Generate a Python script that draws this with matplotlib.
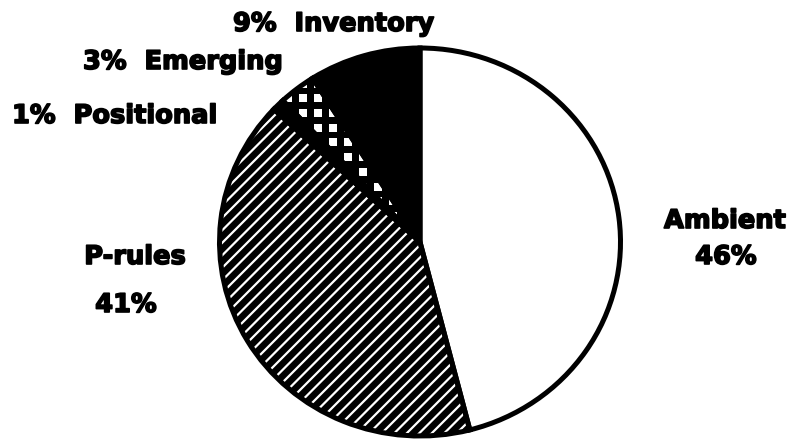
import matplotlib
matplotlib.use("Agg")
import matplotlib.pyplot as plt
import matplotlib.patheffects as pe
import numpy as np
from matplotlib.collections import LineCollection
from matplotlib.patches import Wedge
from matplotlib.transforms import IdentityTransform

# Slice order runs counter-clockwise from 12 o'clock
categories = ["Inventory", "Emerging", "Positional", "P-rules", "Ambient"]
shares = [9, 3, 1, 41, 46]
label_lines = ["9%  Inventory", "3%  Emerging", "1%  Positional", "P-rules", "Ambient"]
pct_lines = ["", "", "", "41%", "46%"]

W, H = 794, 440
fig = plt.figure(figsize=(W / 100, H / 100), dpi=100)
ax = fig.add_axes([0, 0, 1, 1])

# pixel geometry of the disc (slightly wider than tall)
cx, cy = 420, 242          # centre, measured from top-left
rx, ry = 200.5, 194.0      # pixels per data unit

fills = ["black", "black", "black", "black", "white"]
wedges, _ = ax.pie(shares, startangle=90, counterclock=True, radius=1.0,
                   colors=fills, frame=True,
                   wedgeprops=dict(edgecolor="black", linewidth=0))
ax.set_xlim(-cx / rx, (W - cx) / rx)
ax.set_ylim(-(H - cy) / ry, cy / ry)
ax.set_aspect("auto")
ax.axis("off")

# white diagonal stripes across the P-rules slice
segs = []
for c in np.arange(-900, 900, 12.5):
    x0, x1 = cx - 260, cx + 260
    segs.append([(x0, x0 + c), (x1, x1 + c)])
stripes = LineCollection(segs, colors="white", linewidths=1.6,
                         transform=IdentityTransform(), zorder=3)
stripes.set_clip_path(wedges[3])
ax.add_collection(stripes)

# white checks across the Emerging slice
gx = np.arange(cx - 240, cx + 30, 15.0) + 3
gy = np.arange(H - 260, H + 10, 14.7)
GX, GY = np.meshgrid(gx, gy)
checks = ax.scatter(GX.ravel(), GY.ravel(), s=30, marker="s", c="white",
                    linewidths=0, transform=IdentityTransform(), zorder=3)
checks.set_clip_path(wedges[1])

# outlines on top
for w in wedges:
    ow = Wedge(w.center, w.r, w.theta1, w.theta2, facecolor="none",
               edgecolor="black", linewidth=3.6, zorder=4,
               transform=ax.transData)
    ax.add_patch(ow)

font = dict(family="DejaVu Sans", fontweight="bold", fontsize=18.5, color="black",
            path_effects=[pe.withStroke(linewidth=1.2, foreground="black")])

def put(x, y, s, ha="center"):
    fig.text(x / W, 1 - y / H, s, ha=ha, va="center", **font)

put(233, 24, label_lines[0], ha="left")
put(83, 62, label_lines[1], ha="left")
put(12, 116, label_lines[2], ha="left")
put(135, 257, label_lines[3])
put(126, 305, pct_lines[3])
put(725, 221, label_lines[4])
put(726, 257, pct_lines[4])

fig.savefig("out.png", dpi=100)
